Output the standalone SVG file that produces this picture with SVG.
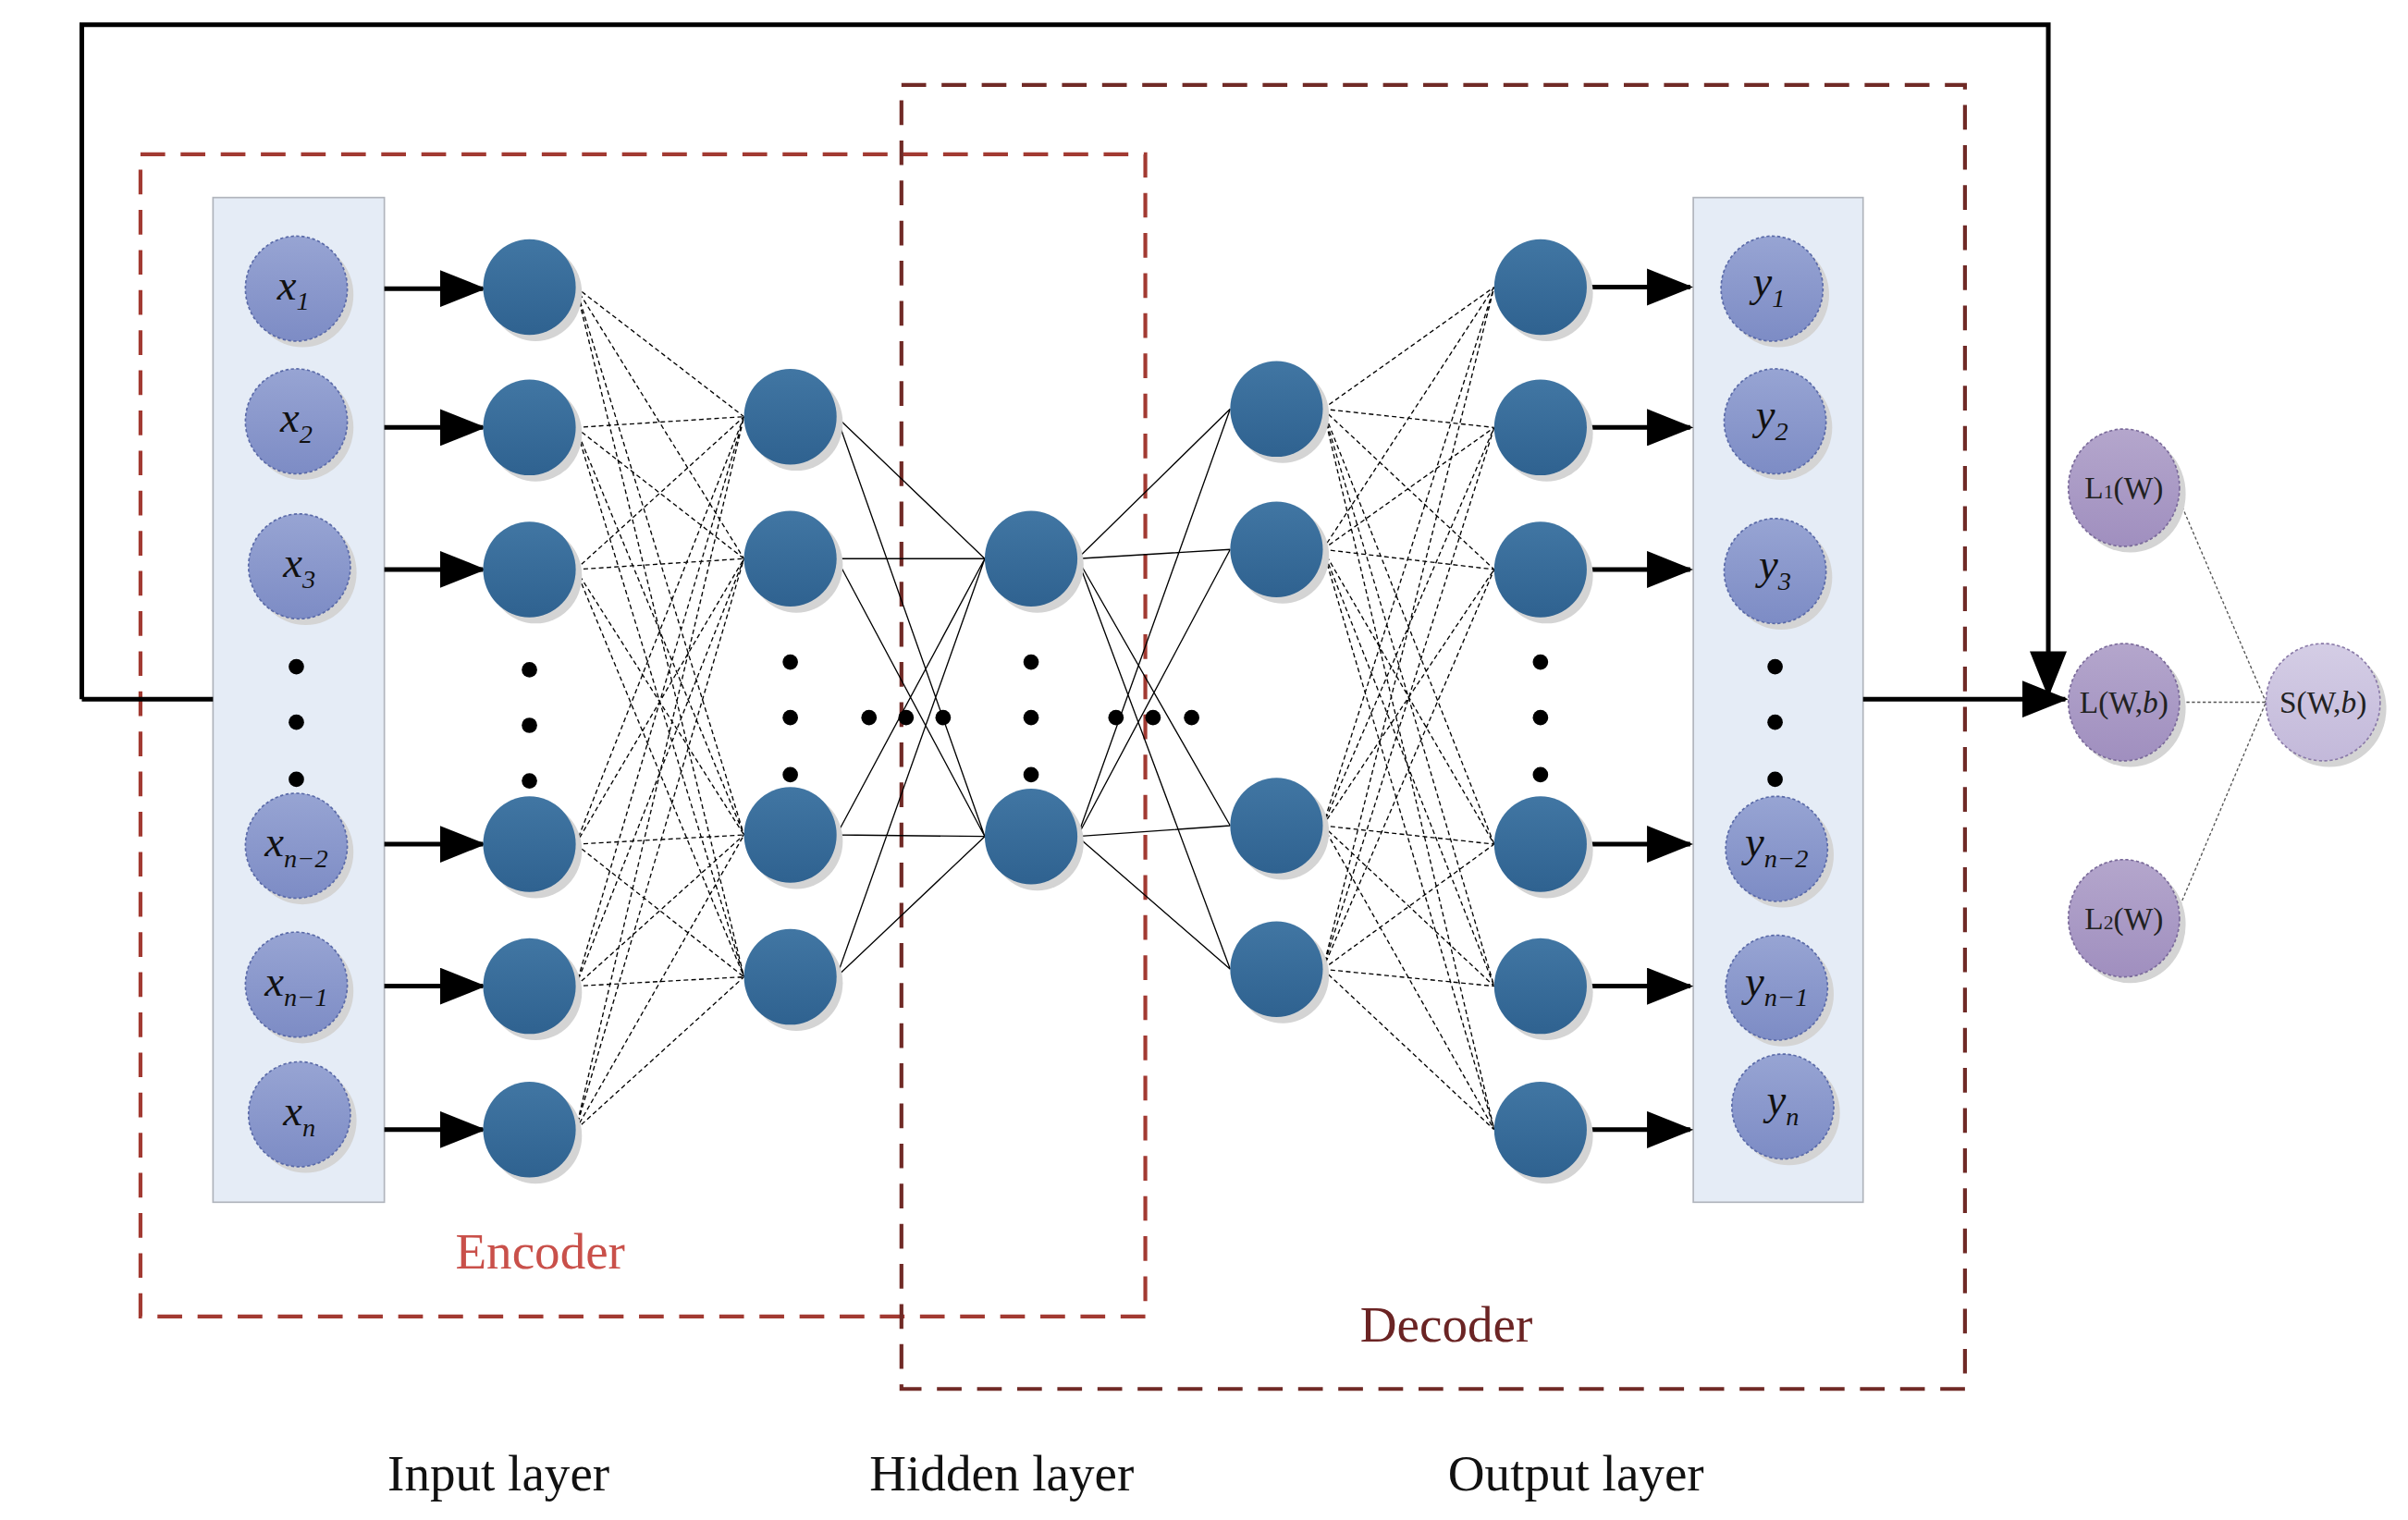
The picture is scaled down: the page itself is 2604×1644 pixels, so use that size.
<svg xmlns="http://www.w3.org/2000/svg" width="2604" height="1644" viewBox="0 0 2604 1644">
<style>
.in{fill:url(#gin);stroke:#5a6aa8;stroke-width:1;stroke-dasharray:2 1.5}
.hn{fill:url(#ghn)}
.ln{fill:url(#gln);stroke:#7a6a9a;stroke-width:1;stroke-dasharray:2 1.5}
.sh{fill:#d4d4d4}
.dot{fill:#000}
.lbl{font-family:"Liberation Serif",serif;font-style:italic;font-size:28px;fill:#111;text-anchor:middle}
.sub{font-size:17px}
.lt{font-family:"Liberation Serif",serif;font-size:20px;fill:#222;text-anchor:middle}
.cap{font-family:"Liberation Serif",serif;font-size:33px;fill:#111;text-anchor:middle}
.w{fill:none;stroke:#000;stroke-width:0.8}
.wd{fill:none;stroke:#000;stroke-width:0.8;stroke-dasharray:3 2}
.ar{fill:none;stroke:#000;stroke-width:3;marker-end:url(#ah)}
</style>
<defs>
<marker id="ah" markerWidth="30" markerHeight="24" refX="28" refY="12" orient="auto" markerUnits="userSpaceOnUse" viewBox="0 0 30 24"><path d="M0 0L30 12L0 24z" fill="#000"/></marker>
<linearGradient id="gin" x1="0" y1="0" x2="0" y2="1"><stop offset="0" stop-color="#97a4d3"/><stop offset="1" stop-color="#7d8cc5"/></linearGradient>
<linearGradient id="ghn" x1="0" y1="0" x2="0" y2="1"><stop offset="0" stop-color="#4176a3"/><stop offset="1" stop-color="#2f6290"/></linearGradient>
<linearGradient id="gln" x1="0" y1="0" x2="0" y2="1"><stop offset="0" stop-color="#b4a6cc"/><stop offset="1" stop-color="#a08fbf"/></linearGradient>
<linearGradient id="gsn" x1="0" y1="0" x2="0" y2="1"><stop offset="0" stop-color="#d4cde5"/><stop offset="1" stop-color="#c3b9da"/></linearGradient>
</defs>
<rect width="2604" height="1644" fill="#fff"/>
<g transform="scale(1.6692)">
<g id="boxes">
<rect x="138" y="128" width="111" height="651" fill="#e5ecf6" stroke="#b0b4bc" stroke-width="1"/>
<rect x="1097" y="128" width="110" height="651" fill="#e5ecf6" stroke="#b0b4bc" stroke-width="1"/>
</g>
<g id="encoder">
<rect x="91" y="100" width="651" height="753" fill="none" stroke="#a23a32" stroke-width="2.5" stroke-dasharray="16 10"/>
<text x="350" y="822" font-family="'Liberation Serif',serif" font-size="33" fill="#c9504a" text-anchor="middle">Encoder</text>
</g>
<g id="decoder">
<rect x="584" y="55" width="689" height="845" fill="none" stroke="#702a26" stroke-width="2.5" stroke-dasharray="16 10"/>
<text x="937" y="869" font-family="'Liberation Serif',serif" font-size="33" fill="#6b2424" text-anchor="middle">Decoder</text>
</g>
<g id="connectors">
<path class="ar" d="M53 453H138M53 453V16H1327V450"/>
<path class="ar" d="M1207 453H1338"/>
<path class="ar" d="M249 187H313"/><path class="ar" d="M249 277H313"/><path class="ar" d="M249 369H313"/><path class="ar" d="M249 547H313"/><path class="ar" d="M249 639H313"/><path class="ar" d="M249 732H313"/>
<path class="ar" d="M1029 186H1095"/><path class="ar" d="M1029 277H1095"/><path class="ar" d="M1029 369H1095"/><path class="ar" d="M1029 547H1095"/><path class="ar" d="M1029 639H1095"/><path class="ar" d="M1029 732H1095"/>
<path class="wd" d="M373 186L482 270M373 186L482 362M373 186L482 541M373 186L482 633M373 277L482 270M373 277L482 362M373 277L482 541M373 277L482 633M373 369L482 270M373 369L482 362M373 369L482 541M373 369L482 633M373 547L482 270M373 547L482 362M373 547L482 541M373 547L482 633M373 639L482 270M373 639L482 362M373 639L482 541M373 639L482 633M373 732L482 270M373 732L482 362M373 732L482 541M373 732L482 633"/>
<path class="w" d="M542 270L638 362M542 270L638 542M542 362L638 362M542 362L638 542M542 541L638 362M542 541L638 542M542 633L638 362M542 633L638 542"/>
<path class="w" d="M698 362L797 265M698 362L797 356M698 362L797 535M698 362L797 628M698 542L797 265M698 542L797 356M698 542L797 535M698 542L797 628"/>
<path class="wd" d="M857 265L968 186M857 265L968 277M857 265L968 369M857 265L968 547M857 265L968 639M857 265L968 732M857 356L968 186M857 356L968 277M857 356L968 369M857 356L968 547M857 356L968 639M857 356L968 732M857 535L968 186M857 535L968 277M857 535L968 369M857 535L968 547M857 535L968 639M857 535L968 732M857 628L968 186M857 628L968 277M857 628L968 369M857 628L968 547M857 628L968 639M857 628L968 732"/>
<path d="M1411 322L1468 455M1413 455H1468M1411 590L1468 455" fill="none" stroke="#555" stroke-width="0.8" stroke-dasharray="2 1.5"/>
</g>
<g id="inputs">
<ellipse class="sh" cx="196" cy="191" rx="33" ry="34"/><ellipse class="in" cx="192" cy="187" rx="33" ry="34"/>
<ellipse class="sh" cx="196" cy="277" rx="33" ry="34"/><ellipse class="in" cx="192" cy="273" rx="33" ry="34"/>
<ellipse class="sh" cx="198" cy="371" rx="33" ry="34"/><ellipse class="in" cx="194" cy="367" rx="33" ry="34"/>
<ellipse class="sh" cx="196" cy="552" rx="33" ry="34"/><ellipse class="in" cx="192" cy="548" rx="33" ry="34"/>
<ellipse class="sh" cx="196" cy="642" rx="33" ry="34"/><ellipse class="in" cx="192" cy="638" rx="33" ry="34"/>
<ellipse class="sh" cx="198" cy="726" rx="33" ry="34"/><ellipse class="in" cx="194" cy="722" rx="33" ry="34"/>
<text class="lbl" x="190" y="194">x<tspan class="sub" dy="7">1</tspan></text>
<text class="lbl" x="192" y="280">x<tspan class="sub" dy="7">2</tspan></text>
<text class="lbl" x="194" y="374">x<tspan class="sub" dy="7">3</tspan></text>
<text class="lbl" x="192" y="555">x<tspan class="sub" dy="7">n−2</tspan></text>
<text class="lbl" x="192" y="645">x<tspan class="sub" dy="7">n−1</tspan></text>
<text class="lbl" x="194" y="729">x<tspan class="sub" dy="7">n</tspan></text>
<circle class="dot" cx="192" cy="432" r="5"/><circle class="dot" cx="192" cy="468" r="5"/><circle class="dot" cx="192" cy="505" r="5"/>
</g>
<g id="layer1">
<ellipse class="sh" cx="347" cy="190" rx="30" ry="31"/><ellipse class="hn" cx="343" cy="186" rx="30" ry="31"/>
<ellipse class="sh" cx="347" cy="281" rx="30" ry="31"/><ellipse class="hn" cx="343" cy="277" rx="30" ry="31"/>
<ellipse class="sh" cx="347" cy="373" rx="30" ry="31"/><ellipse class="hn" cx="343" cy="369" rx="30" ry="31"/>
<ellipse class="sh" cx="347" cy="551" rx="30" ry="31"/><ellipse class="hn" cx="343" cy="547" rx="30" ry="31"/>
<ellipse class="sh" cx="347" cy="643" rx="30" ry="31"/><ellipse class="hn" cx="343" cy="639" rx="30" ry="31"/>
<ellipse class="sh" cx="347" cy="736" rx="30" ry="31"/><ellipse class="hn" cx="343" cy="732" rx="30" ry="31"/>
<circle class="dot" cx="343" cy="434" r="5"/><circle class="dot" cx="343" cy="470" r="5"/><circle class="dot" cx="343" cy="506" r="5"/>
</g>
<g id="layer2">
<ellipse class="sh" cx="516" cy="274" rx="30" ry="31"/><ellipse class="hn" cx="512" cy="270" rx="30" ry="31"/>
<ellipse class="sh" cx="516" cy="366" rx="30" ry="31"/><ellipse class="hn" cx="512" cy="362" rx="30" ry="31"/>
<ellipse class="sh" cx="516" cy="545" rx="30" ry="31"/><ellipse class="hn" cx="512" cy="541" rx="30" ry="31"/>
<ellipse class="sh" cx="516" cy="637" rx="30" ry="31"/><ellipse class="hn" cx="512" cy="633" rx="30" ry="31"/>
<circle class="dot" cx="512" cy="429" r="5"/><circle class="dot" cx="512" cy="465" r="5"/><circle class="dot" cx="512" cy="502" r="5"/>
</g>
<g id="hidden">
<ellipse class="sh" cx="672" cy="366" rx="30" ry="31"/><ellipse class="hn" cx="668" cy="362" rx="30" ry="31"/>
<ellipse class="sh" cx="672" cy="546" rx="30" ry="31"/><ellipse class="hn" cx="668" cy="542" rx="30" ry="31"/>
<circle class="dot" cx="668" cy="429" r="5"/><circle class="dot" cx="668" cy="465" r="5"/><circle class="dot" cx="668" cy="502" r="5"/>
<circle class="dot" cx="563" cy="465" r="5"/><circle class="dot" cx="587" cy="465" r="5"/><circle class="dot" cx="611" cy="465" r="5"/>
<circle class="dot" cx="723" cy="465" r="5"/><circle class="dot" cx="747" cy="465" r="5"/><circle class="dot" cx="772" cy="465" r="5"/>
</g>
<g id="layer4">
<ellipse class="sh" cx="831" cy="269" rx="30" ry="31"/><ellipse class="hn" cx="827" cy="265" rx="30" ry="31"/>
<ellipse class="sh" cx="831" cy="360" rx="30" ry="31"/><ellipse class="hn" cx="827" cy="356" rx="30" ry="31"/>
<ellipse class="sh" cx="831" cy="539" rx="30" ry="31"/><ellipse class="hn" cx="827" cy="535" rx="30" ry="31"/>
<ellipse class="sh" cx="831" cy="632" rx="30" ry="31"/><ellipse class="hn" cx="827" cy="628" rx="30" ry="31"/>
</g>
<g id="layer5">
<ellipse class="sh" cx="1002" cy="190" rx="30" ry="31"/><ellipse class="hn" cx="998" cy="186" rx="30" ry="31"/>
<ellipse class="sh" cx="1002" cy="281" rx="30" ry="31"/><ellipse class="hn" cx="998" cy="277" rx="30" ry="31"/>
<ellipse class="sh" cx="1002" cy="373" rx="30" ry="31"/><ellipse class="hn" cx="998" cy="369" rx="30" ry="31"/>
<ellipse class="sh" cx="1002" cy="551" rx="30" ry="31"/><ellipse class="hn" cx="998" cy="547" rx="30" ry="31"/>
<ellipse class="sh" cx="1002" cy="643" rx="30" ry="31"/><ellipse class="hn" cx="998" cy="639" rx="30" ry="31"/>
<ellipse class="sh" cx="1002" cy="736" rx="30" ry="31"/><ellipse class="hn" cx="998" cy="732" rx="30" ry="31"/>
<circle class="dot" cx="998" cy="429" r="5"/><circle class="dot" cx="998" cy="465" r="5"/><circle class="dot" cx="998" cy="502" r="5"/>
</g>
<g id="outputs">
<ellipse class="sh" cx="1152" cy="191" rx="33" ry="34"/><ellipse class="in" cx="1148" cy="187" rx="33" ry="34"/>
<ellipse class="sh" cx="1154" cy="277" rx="33" ry="34"/><ellipse class="in" cx="1150" cy="273" rx="33" ry="34"/>
<ellipse class="sh" cx="1154" cy="374" rx="33" ry="34"/><ellipse class="in" cx="1150" cy="370" rx="33" ry="34"/>
<ellipse class="sh" cx="1155" cy="554" rx="33" ry="34"/><ellipse class="in" cx="1151" cy="550" rx="33" ry="34"/>
<ellipse class="sh" cx="1155" cy="644" rx="33" ry="34"/><ellipse class="in" cx="1151" cy="640" rx="33" ry="34"/>
<ellipse class="sh" cx="1159" cy="721" rx="33" ry="34"/><ellipse class="in" cx="1155" cy="717" rx="33" ry="34"/>
<text class="lbl" x="1146" y="192">y<tspan class="sub" dy="7">1</tspan></text>
<text class="lbl" x="1148" y="278">y<tspan class="sub" dy="7">2</tspan></text>
<text class="lbl" x="1150" y="375">y<tspan class="sub" dy="7">3</tspan></text>
<text class="lbl" x="1151" y="555">y<tspan class="sub" dy="7">n−2</tspan></text>
<text class="lbl" x="1151" y="645">y<tspan class="sub" dy="7">n−1</tspan></text>
<text class="lbl" x="1155" y="722">y<tspan class="sub" dy="7">n</tspan></text>
<circle class="dot" cx="1150" cy="432" r="5"/><circle class="dot" cx="1150" cy="468" r="5"/><circle class="dot" cx="1150" cy="505" r="5"/>
</g>
<g id="L1">
<ellipse class="sh" cx="1380" cy="320" rx="36" ry="38"/><ellipse class="ln" cx="1376" cy="316" rx="36" ry="38"/>
<text class="lt" x="1376" y="323">L<tspan font-size="13">1</tspan>(W)</text>
</g>
<g id="L">
<ellipse class="sh" cx="1380" cy="459" rx="36" ry="38"/><ellipse class="ln" cx="1376" cy="455" rx="36" ry="38"/>
<text class="lt" x="1376" y="462">L(W,<tspan font-style="italic">b</tspan>)</text>
</g>
<g id="L2">
<ellipse class="sh" cx="1380" cy="599" rx="36" ry="38"/><ellipse class="ln" cx="1376" cy="595" rx="36" ry="38"/>
<text class="lt" x="1376" y="602">L<tspan font-size="13">2</tspan>(W)</text>
</g>
<g id="S">
<ellipse class="sh" cx="1509" cy="459" rx="37" ry="38"/><ellipse cx="1505" cy="455" rx="37" ry="38" fill="url(#gsn)" stroke="#8a7aa8" stroke-width="1" stroke-dasharray="2 1.5"/>
<text class="lt" x="1505" y="462">S(W,<tspan font-style="italic">b</tspan>)</text>
</g>
<g id="captions">
<text class="cap" x="323" y="966">Input layer</text>
<text class="cap" x="649" y="966">Hidden layer</text>
<text class="cap" x="1021" y="966">Output layer</text>
</g>
</g>
</svg>
